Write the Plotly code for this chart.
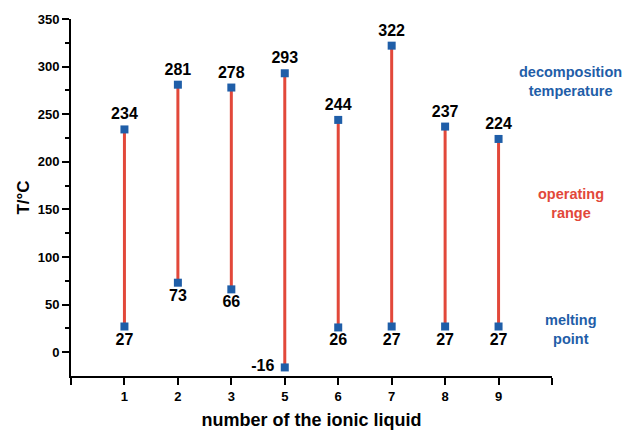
import plotly.graph_objects as go

liquids = ["1", "2", "3", "5", "6", "7", "8", "9"]
decomposition = [234, 281, 278, 293, 244, 322, 237, 224]
melting = [27, 73, 66, -16, 26, 27, 27, 27]

xpos = list(range(1, len(liquids) + 1))
BLUE = "#1f5ea8"
RED = "#e2483a"
FONT = "Liberation Sans, Arial, sans-serif"

fig = go.Figure()

lx, ly = [], []
for x, lo, hi in zip(xpos, melting, decomposition):
    lx += [x, x, None]
    ly += [lo, hi, None]
fig.add_trace(go.Scatter(x=lx, y=ly, mode="lines", line=dict(color=RED, width=3),
                         hoverinfo="skip", showlegend=False))

fig.add_trace(go.Scatter(x=xpos, y=decomposition, mode="markers+text",
                         marker=dict(symbol="square", size=8, color=BLUE),
                         text=[str(v) for v in decomposition], textposition="top center",
                         textfont=dict(family=FONT, size=16, color="black", weight="bold"),
                         showlegend=False))

mpos = ["middle left" if v < 0 else "bottom center" for v in melting]
fig.add_trace(go.Scatter(x=xpos, y=melting, mode="markers+text",
                         marker=dict(symbol="square", size=8, color=BLUE),
                         text=[str(v) + ("\u00a0" if v < 0 else "") for v in melting],
                         textposition=mpos,
                         textfont=dict(family=FONT, size=16, color="black", weight="bold"),
                         showlegend=False))

side = [("decomposition<br>temperature", 284, BLUE),
        ("operating<br>range", 156, RED),
        ("melting<br>point", 24, BLUE)]
for txt, yv, col in side:
    fig.add_annotation(x=1.0395, xref="paper", y=yv, yref="y", text=txt, showarrow=False,
                       xanchor="center", yanchor="middle",
                       font=dict(family=FONT, size=14.5, color=col, weight="bold"))

# page body has an 8px default margin, so the figure is sized to fit the 631x430 window
fig.update_layout(
    width=623, height=422,
    margin=dict(l=63, r=79, t=11, b=54, autoexpand=False),
    plot_bgcolor="white", paper_bgcolor="white",
    font=dict(family=FONT, color="black"),
)
fig.update_xaxes(range=[0, 9], tickvals=list(range(0, 10)),
                 ticktext=[""] + liquids + [""], automargin=False,
                 showgrid=False, zeroline=False, showline=True, linecolor="black", linewidth=2,
                 ticks="outside", ticklen=7, tickwidth=1.5, tickcolor="black",
                 tickfont=dict(family=FONT, size=13, weight="bold"),
                 title=dict(text="number of the ionic liquid", standoff=21,
                            font=dict(family=FONT, size=18, weight="bold")))
fig.update_yaxes(range=[-25, 350], tickvals=[0, 50, 100, 150, 200, 250, 300, 350],
                 automargin=False,
                 showgrid=False, zeroline=False, showline=True, linecolor="black", linewidth=2,
                 ticks="outside", ticklen=7, tickwidth=1.5, tickcolor="black",
                 minor=dict(tickvals=[25, 75, 125, 175, 225, 275, 325], ticks="outside", ticklen=4,
                            tickwidth=1.5, tickcolor="black"),
                 tickfont=dict(family=FONT, size=13, weight="bold"),
                 title=dict(text="T/°C", standoff=4,
                            font=dict(family=FONT, size=17, weight="bold")))

fig.write_html("out.html")
